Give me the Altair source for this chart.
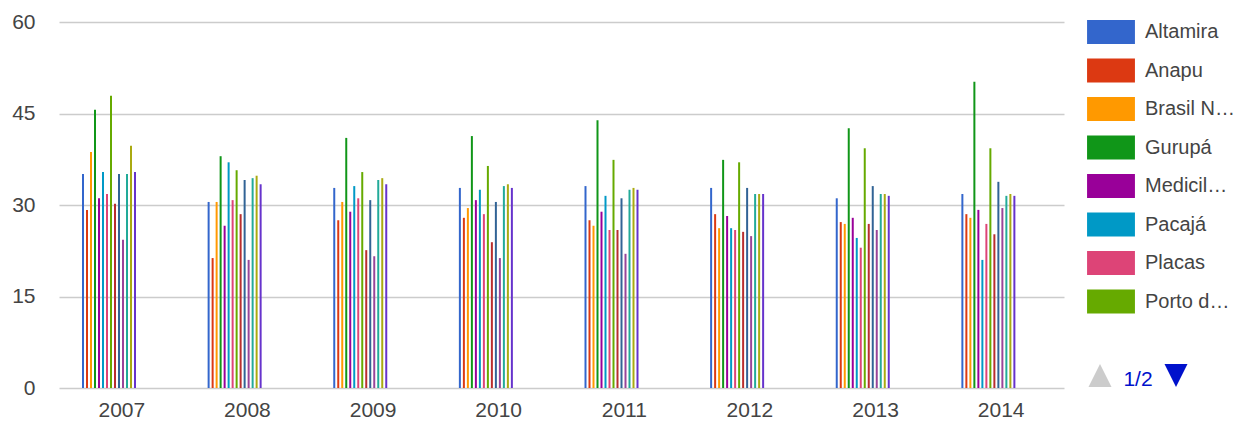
import altair as alt
import pandas as pd

years = ["2007", "2008", "2009", "2010", "2011", "2012", "2013", "2014"]
series = ["Altamira", "Anapu", "Brasil Novo", "Gurupá", "Medicilândia", "Pacajá",
          "Placas", "Porto de Moz", "Senador José Porfírio", "Uruará",
          "Vitória do Xingu", "Região Xingu", "Pará", "Brasil"]
colors = ["#3366cc", "#dc3912", "#ff9900", "#109618", "#990099", "#0099c6",
          "#dd4477", "#66aa00", "#b82e2e", "#316395", "#994499", "#22aa99",
          "#aaaa11", "#6633cc"]
legend_shown = ["Altamira", "Anapu", "Brasil Novo", "Gurupá", "Medicilândia",
                "Pacajá", "Placas", "Porto de Moz"]
legend_labels = ["Altamira", "Anapu", "Brasil N…", "Gurupá", "Medicil…",
                 "Pacajá", "Placas", "Porto d…"]
y_ticks = [0, 15, 30, 45, 60]
pager_text = "1/2"

altamira = [35.1, 30.5, 32.8, 32.8, 33.1, 32.8, 31.1, 31.8]
anapu = [29.2, 21.3, 27.5, 27.9, 27.5, 28.5, 27.2, 28.5]
brasil_novo = [38.7, 30.5, 30.5, 29.5, 26.6, 26.2, 26.9, 27.9]
gurupa = [45.6, 38.0, 41.0, 41.3, 43.9, 37.4, 42.6, 50.2]
medicilandia = [31.1, 26.6, 28.9, 30.8, 28.9, 28.2, 27.9, 29.2]
pacaja = [35.4, 37.0, 33.1, 32.5, 31.5, 26.2, 24.6, 21.0]
placas = [31.8, 30.8, 31.1, 28.5, 25.9, 25.9, 23.0, 26.9]
porto_de_moz = [47.9, 35.7, 35.4, 36.4, 37.4, 37.0, 39.3, 39.3]
senador = [30.2, 28.5, 22.6, 23.9, 25.9, 25.6, 26.9, 25.2]
uruara = [35.1, 34.1, 30.8, 30.5, 31.1, 32.8, 33.1, 33.8]
vitoria = [24.3, 21.0, 21.6, 21.3, 22.0, 24.9, 25.9, 29.5]
regiao = [35.1, 34.4, 34.1, 33.1, 32.5, 31.8, 31.8, 31.5]
para = [39.7, 34.8, 34.4, 33.4, 32.8, 31.8, 31.8, 31.8]
brasil = [35.4, 33.4, 33.4, 32.8, 32.5, 31.8, 31.5, 31.5]

all_values = [altamira, anapu, brasil_novo, gurupa, medicilandia, pacaja, placas,
              porto_de_moz, senador, uruara, vitoria, regiao, para, brasil]

rows = []
for name, vals in zip(series, all_values):
    for yr, v in zip(years, vals):
        rows.append({"year": yr, "series": name, "value": v})
df = pd.DataFrame(rows)

label_expr = "datum.label"
for full, short in zip(legend_shown, legend_labels):
    if full != short:
        label_expr = f"datum.label === '{full}' ? '{short}' : (" + label_expr + ")"

FONT = "Liberation Sans"

bars = alt.Chart(df).mark_bar(opacity=1).encode(
    x=alt.X("year:N", sort=years,
            scale=alt.Scale(paddingInner=0, paddingOuter=0),
            axis=alt.Axis(title=None, labelAngle=0, ticks=False, domain=False,
                          labelFontSize=21, labelColor="#444", labelFont=FONT,
                          labelPadding=11, grid=False)),
    xOffset=alt.XOffset("series:N", sort=series,
                        scale=alt.Scale(domain=series, range=[22, 78],
                                        paddingInner=0.5, paddingOuter=0.25)),
    y=alt.Y("value:Q",
            scale=alt.Scale(domain=[0, 60], nice=False),
            axis=alt.Axis(title=None, values=y_ticks, ticks=False, domain=False,
                          labelFontSize=21, labelColor="#444", labelFont=FONT,
                          labelPadding=24, gridColor="#cccccc", gridWidth=1.5)),
    color=alt.Color("series:N",
                    scale=alt.Scale(domain=series, range=colors),
                    legend=alt.Legend(
                        title=None, orient="none", legendX=1033, legendY=-9,
                        values=legend_shown, labelExpr=label_expr,
                        symbolType="M-1.26,-0.63H1.26V0.63H-1.26Z",
                        symbolSize=1444, symbolStrokeWidth=0, symbolOpacity=1,
                        labelOffset=15, labelFontSize=20, labelFont=FONT,
                        labelColor="#444", rowPadding=7.5, padding=0,
                        labelLimit=200)),
)

pager_df = pd.DataFrame({"label": [pager_text]})

up = alt.Chart(pager_df).mark_point(
    shape="M0,-1L1,1L-1,1Z", size=529, filled=True, color="#cccccc", opacity=1
).encode(x=alt.value(1041), y=alt.value(353.5))

down = alt.Chart(pager_df).mark_point(
    shape="M-1,-1L1,-1L0,1Z", size=529, filled=True, color="#0011cc", opacity=1
).encode(x=alt.value(1117), y=alt.value(353.5))

pager = alt.Chart(pager_df).mark_text(
    fontSize=21, font=FONT, color="#0011cc", align="center", baseline="alphabetic"
).encode(x=alt.value(1079), y=alt.value(364), text="label:N")

chart = alt.layer(bars, up, down, pager).properties(
    width=1005, height=366,
    padding={"left": 3, "top": 3, "right": 0, "bottom": 0},
).configure(font=FONT, view=alt.ViewConfig(stroke=None))

chart.save("out.html", embed_options={"renderer": "svg", "actions": False})
